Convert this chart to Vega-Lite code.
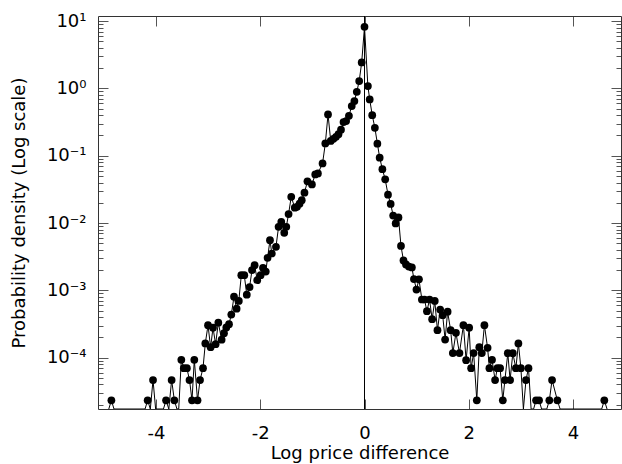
{
  "$schema": "https://vega.github.io/schema/vega-lite/v6.json",
  "width": 523,
  "height": 393,
  "autosize": "none",
  "padding": {"left": 98, "top": 16, "right": 1, "bottom": 55},
  "background": "white",
  "config": {
    "font": "DejaVu Sans",
    "view": {"stroke": null},
    "axis": {"labelFont": "DejaVu Sans", "titleFont": "DejaVu Sans", "labelColor": "black", "titleColor": "black", "titleFontWeight": "normal", "domainColor": "#333", "domainWidth": 1, "tickColor": "#555", "tickWidth": 1, "grid": false, "labelOverlap": false, "labelBound": false, "labelFlush": false}
  },
  "data": {"values": [
    {"logdiff": -4.907, "density": 0}, {"logdiff": -4.857, "density": 2.33e-5}, {"logdiff": -4.807, "density": 0},
    {"logdiff": -4.211, "density": 0}, {"logdiff": -4.161, "density": 2.33e-5}, {"logdiff": -4.110, "density": 0},
    {"logdiff": -4.058, "density": 4.66e-5}, {"logdiff": -4.008, "density": 0}, {"logdiff": -3.858, "density": 0},
    {"logdiff": -3.808, "density": 2.33e-5}, {"logdiff": -3.755, "density": 0}, {"logdiff": -3.701, "density": 4.66e-5},
    {"logdiff": -3.649, "density": 2.33e-5}, {"logdiff": -3.599, "density": 0}, {"logdiff": -3.565, "density": 0},
    {"logdiff": -3.515, "density": 9.32e-5}, {"logdiff": -3.467, "density": 6.99e-5}, {"logdiff": -3.409, "density": 6.99e-5},
    {"logdiff": -3.358, "density": 4.66e-5}, {"logdiff": -3.310, "density": 2.33e-5}, {"logdiff": -3.266, "density": 9.32e-5},
    {"logdiff": -3.204, "density": 2.33e-5}, {"logdiff": -3.156, "density": 4.66e-5}, {"logdiff": -3.099, "density": 6.99e-5},
    {"logdiff": -3.055, "density": 1.63e-4}, {"logdiff": -3.003, "density": 3.04e-4}, {"logdiff": -2.953, "density": 1.43e-4},
    {"logdiff": -2.907, "density": 2.79e-4}, {"logdiff": -2.857, "density": 1.59e-4}, {"logdiff": -2.805, "density": 3.31e-4},
    {"logdiff": -2.742, "density": 1.85e-4}, {"logdiff": -2.696, "density": 2.31e-4}, {"logdiff": -2.652, "density": 2.81e-4},
    {"logdiff": -2.600, "density": 3.15e-4}, {"logdiff": -2.556, "density": 4.38e-4}, {"logdiff": -2.504, "density": 8.06e-4},
    {"logdiff": -2.454, "density": 5.35e-4}, {"logdiff": -2.412, "density": 6.98e-4}, {"logdiff": -2.364, "density": 1.68e-3},
    {"logdiff": -2.307, "density": 1.68e-3}, {"logdiff": -2.259, "density": 8.63e-4}, {"logdiff": -2.205, "density": 1.12e-3},
    {"logdiff": -2.159, "density": 2.0e-3}, {"logdiff": -2.109, "density": 2.37e-3}, {"logdiff": -2.058, "density": 1.42e-3},
    {"logdiff": -1.994, "density": 1.68e-3}, {"logdiff": -1.948, "density": 2.16e-3}, {"logdiff": -1.895, "density": 1.90e-3},
    {"logdiff": -1.860, "density": 3.04e-3}, {"logdiff": -1.814, "density": 5.57e-3}, {"logdiff": -1.779, "density": 3.53e-3},
    {"logdiff": -1.699, "density": 4.43e-3}, {"logdiff": -1.649, "density": 8.78e-3}, {"logdiff": -1.597, "density": 1.04e-2},
    {"logdiff": -1.540, "density": 7.15e-3}, {"logdiff": -1.501, "density": 8.78e-3}, {"logdiff": -1.457, "density": 1.36e-2},
    {"logdiff": -1.406, "density": 2.45e-2}, {"logdiff": -1.338, "density": 1.69e-2}, {"logdiff": -1.296, "density": 1.74e-2},
    {"logdiff": -1.246, "density": 1.94e-2}, {"logdiff": -1.204, "density": 2.19e-2}, {"logdiff": -1.152, "density": 2.83e-2},
    {"logdiff": -1.095, "density": 4.17e-2}, {"logdiff": -1.009, "density": 3.75e-2}, {"logdiff": -0.945, "density": 5.27e-2},
    {"logdiff": -0.894, "density": 5.46e-2}, {"logdiff": -0.805, "density": 7.69e-2}, {"logdiff": -0.752, "density": 0.152},
    {"logdiff": -0.700, "density": 0.411}, {"logdiff": -0.648, "density": 0.166}, {"logdiff": -0.596, "density": 0.178},
    {"logdiff": -0.547, "density": 0.191}, {"logdiff": -0.499, "density": 0.209}, {"logdiff": -0.451, "density": 0.244},
    {"logdiff": -0.403, "density": 0.316}, {"logdiff": -0.353, "density": 0.327}, {"logdiff": -0.299, "density": 0.392},
    {"logdiff": -0.245, "density": 0.546}, {"logdiff": -0.194, "density": 0.648}, {"logdiff": -0.148, "density": 0.890},
    {"logdiff": -0.102, "density": 1.284}, {"logdiff": -0.054, "density": 2.43}, {"logdiff": 0.0, "density": 8.23},
    {"logdiff": 0.065, "density": 1.082}, {"logdiff": 0.100, "density": 0.687}, {"logdiff": 0.148, "density": 0.401},
    {"logdiff": 0.199, "density": 0.260}, {"logdiff": 0.247, "density": 0.151}, {"logdiff": 0.291, "density": 0.0937},
    {"logdiff": 0.343, "density": 0.0632}, {"logdiff": 0.397, "density": 0.0446}, {"logdiff": 0.451, "density": 0.0264},
    {"logdiff": 0.502, "density": 0.0192}, {"logdiff": 0.550, "density": 0.0129}, {"logdiff": 0.598, "density": 0.00986},
    {"logdiff": 0.652, "density": 0.0121}, {"logdiff": 0.700, "density": 0.00458}, {"logdiff": 0.748, "density": 0.00278},
    {"logdiff": 0.796, "density": 0.00243}, {"logdiff": 0.851, "density": 0.00226}, {"logdiff": 0.909, "density": 0.00219},
    {"logdiff": 0.949, "density": 0.00147}, {"logdiff": 0.997, "density": 0.00103}, {"logdiff": 1.045, "density": 0.00146},
    {"logdiff": 1.101, "density": 7.32e-4}, {"logdiff": 1.151, "density": 7.32e-4}, {"logdiff": 1.198, "density": 4.91e-4},
    {"logdiff": 1.248, "density": 7.32e-4}, {"logdiff": 1.298, "density": 3.73e-4}, {"logdiff": 1.348, "density": 6.98e-4},
    {"logdiff": 1.400, "density": 2.56e-4}, {"logdiff": 1.452, "density": 5.2e-4}, {"logdiff": 1.500, "density": 4.28e-4},
    {"logdiff": 1.547, "density": 1.86e-4}, {"logdiff": 1.595, "density": 4.82e-4}, {"logdiff": 1.653, "density": 2.56e-4},
    {"logdiff": 1.695, "density": 1.17e-4}, {"logdiff": 1.755, "density": 2.34e-4}, {"logdiff": 1.822, "density": 1.17e-4},
    {"logdiff": 1.898, "density": 3.04e-4}, {"logdiff": 1.950, "density": 9.18e-5}, {"logdiff": 2.008, "density": 2.79e-4},
    {"logdiff": 2.046, "density": 6.99e-5}, {"logdiff": 2.094, "density": 1.17e-4}, {"logdiff": 2.155, "density": 2.33e-5},
    {"logdiff": 2.203, "density": 1.43e-4}, {"logdiff": 2.251, "density": 1.17e-4}, {"logdiff": 2.301, "density": 3.04e-4},
    {"logdiff": 2.362, "density": 1.40e-4}, {"logdiff": 2.397, "density": 6.99e-5}, {"logdiff": 2.447, "density": 9.32e-5},
    {"logdiff": 2.506, "density": 4.66e-5}, {"logdiff": 2.550, "density": 6.99e-5}, {"logdiff": 2.602, "density": 6.99e-5},
    {"logdiff": 2.654, "density": 2.33e-5}, {"logdiff": 2.694, "density": 4.66e-5}, {"logdiff": 2.750, "density": 1.165e-4},
    {"logdiff": 2.794, "density": 4.66e-5}, {"logdiff": 2.846, "density": 1.165e-4}, {"logdiff": 2.905, "density": 6.99e-5},
    {"logdiff": 2.953, "density": 1.63e-4}, {"logdiff": 3.001, "density": 6.99e-5}, {"logdiff": 3.049, "density": 0},
    {"logdiff": 3.099, "density": 4.66e-5}, {"logdiff": 3.147, "density": 6.99e-5}, {"logdiff": 3.197, "density": 0},
    {"logdiff": 3.245, "density": 0}, {"logdiff": 3.292, "density": 2.33e-5}, {"logdiff": 3.350, "density": 2.33e-5},
    {"logdiff": 3.398, "density": 0}, {"logdiff": 3.498, "density": 0}, {"logdiff": 3.547, "density": 2.33e-5},
    {"logdiff": 3.599, "density": 4.66e-5}, {"logdiff": 3.701, "density": 2.33e-5}, {"logdiff": 3.753, "density": 0},
    {"logdiff": 4.552, "density": 0}, {"logdiff": 4.602, "density": 2.33e-5}, {"logdiff": 4.654, "density": 0}
  ]},
  "resolve": {"axis": {"x": "independent", "y": "independent"}},
  "layer": [
    {
      "mark": {"type": "line", "color": "black", "strokeWidth": 1, "clip": true},
      "encoding": {
        "x": {"field": "logdiff", "type": "quantitative",
          "scale": {"domain": [-5.114, 4.922], "nice": false, "zero": false},
          "axis": {"orient": "bottom", "values": [-4, -2, 0, 2, 4], "tickSize": -10, "labelFontSize": 18, "labelPadding": 25,
            "labelExpr": "(datum.value < 0 ? '-' : '') + abs(datum.value)",
            "title": "Log price difference", "titleFontSize": 18, "titlePadding": 2}},
        "y": {"field": "density", "type": "quantitative",
          "scale": {"type": "log", "domain": [0.0000173, 11.9], "nice": false, "clamp": true},
          "axis": {"orient": "left",
            "values": [0.00002, 0.00003, 0.00004, 0.00005, 0.00006, 0.00007, 0.00008, 0.00009, 0.0001, 0.0002, 0.0003, 0.0004, 0.0005, 0.0006, 0.0007, 0.0008, 0.0009, 0.001, 0.002, 0.003, 0.004, 0.005, 0.006, 0.007, 0.008, 0.009, 0.01, 0.02, 0.03, 0.04, 0.05, 0.06, 0.07, 0.08, 0.09, 0.1, 0.2, 0.3, 0.4, 0.5, 0.6, 0.7, 0.8, 0.9, 1, 2, 3, 4, 5, 6, 7, 8, 9, 10],
            "tickSize": {"condition": {"test": "datum.value == 10 || datum.value == 1 || datum.value == 0.1 || datum.value == 0.01 || datum.value == 0.001 || datum.value == 0.0001", "value": -10}, "value": -5},
            "labelExpr": "datum.value == 10 ? '10¹' : datum.value == 1 ? '10⁰' : datum.value == 0.1 ? '10⁻¹' : datum.value == 0.01 ? '10⁻²' : datum.value == 0.001 ? '10⁻³' : datum.value == 0.0001 ? '10⁻⁴' : ''",
            "labelFontSize": 18, "labelPadding": 22,
            "title": "Probability density (Log scale)", "titleFontSize": 18, "titlePadding": 18}}
      }
    },
    {
      "transform": [{"filter": "datum.density > 0"}],
      "mark": {"type": "circle", "color": "black", "opacity": 1, "size": 60},
      "encoding": {
        "x": {"field": "logdiff", "type": "quantitative",
          "axis": {"orient": "top", "values": [-4, -2, 0, 2, 4], "tickSize": -10, "labels": false, "title": null}},
        "y": {"field": "density", "type": "quantitative",
          "axis": {"orient": "right",
            "values": [0.00002, 0.00003, 0.00004, 0.00005, 0.00006, 0.00007, 0.00008, 0.00009, 0.0001, 0.0002, 0.0003, 0.0004, 0.0005, 0.0006, 0.0007, 0.0008, 0.0009, 0.001, 0.002, 0.003, 0.004, 0.005, 0.006, 0.007, 0.008, 0.009, 0.01, 0.02, 0.03, 0.04, 0.05, 0.06, 0.07, 0.08, 0.09, 0.1, 0.2, 0.3, 0.4, 0.5, 0.6, 0.7, 0.8, 0.9, 1, 2, 3, 4, 5, 6, 7, 8, 9, 10],
            "tickSize": {"condition": {"test": "datum.value == 10 || datum.value == 1 || datum.value == 0.1 || datum.value == 0.01 || datum.value == 0.001 || datum.value == 0.0001", "value": -10}, "value": -5},
            "labels": false, "title": null}}
      }
    },
    {
      "mark": {"type": "rule", "color": "black", "strokeWidth": 0.9},
      "encoding": {"x": {"datum": 0, "type": "quantitative", "axis": null}}
    }
  ]
}
